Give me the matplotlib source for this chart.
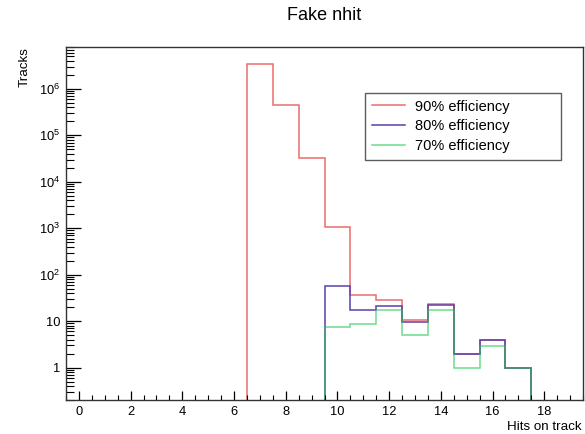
import numpy as np
import matplotlib.pyplot as plt
from matplotlib.ticker import MultipleLocator, FixedLocator, FixedFormatter, LogLocator, NullFormatter

plt.rcParams['font.family'] = ['Liberation Sans', 'DejaVu Sans']
plt.rcParams['mathtext.default'] = 'regular'

# bin edges: hits on track, unit bins from -0.5 to 19.5
edges = np.arange(-0.5, 20.5, 1.0)

# fake-track counts per bin, starting at the first filled bin
eff90_first = 7
eff90 = [3.5e6, 4.4e5, 3.3e4, 1080, 36, 28, 10.5, 23, 2, 4, 1]
eff80_first = 10
eff80 = [56, 17, 21, 9.7, 22, 2, 4, 1]
eff70_first = 10
eff70 = [7.5, 8.7, 17, 4.9, 17, 1, 2.9, 1]

labels = ['90% efficiency', '80% efficiency', '70% efficiency']
colors = ['#ec6b6b', '#5a3fae', '#1fc950']

fig = plt.figure(figsize=(5.85, 4.34), dpi=100)
ax = fig.add_axes([66 / 585, 1 - 400 / 434, 517 / 585, 353 / 434])

ymin = 0.2


def draw(first, vals, color, label, alpha=1.0):
    e = edges[first:first + len(vals) + 1]
    ax.stairs(vals, e, baseline=ymin, color=color, lw=1.1, label=label, alpha=alpha)


draw(eff90_first, eff90, colors[0], labels[0])
draw(eff80_first, eff80, colors[1], labels[1])
draw(eff70_first, eff70, colors[2], labels[2], alpha=0.65)

ax.set_yscale('log')
ax.set_ylim(ymin, 8e6)
ax.set_xlim(-0.5, 19.5)

# x ticks
ax.xaxis.set_major_locator(MultipleLocator(2))
ax.xaxis.set_minor_locator(MultipleLocator(0.5))

# y ticks
ydec = [1, 10, 1e2, 1e3, 1e4, 1e5, 1e6]
ylab = ['1', '10', '$10^{2}$', '$10^{3}$', '$10^{4}$', '$10^{5}$', '$10^{6}$']
ax.yaxis.set_major_locator(FixedLocator(ydec))
ax.yaxis.set_major_formatter(FixedFormatter(ylab))
ax.yaxis.set_minor_locator(LogLocator(base=10, subs=np.arange(2, 10), numticks=20))
ax.yaxis.set_minor_formatter(NullFormatter())

ax.tick_params(which='both', direction='in', labelsize=9.3, top=False, right=False)
ax.tick_params(axis='x', which='major', length=6.5, width=0.9, pad=4)
ax.tick_params(axis='x', which='minor', length=3.6, width=0.8)
ax.tick_params(axis='y', which='major', length=10.5, width=0.9, pad=4)
ax.tick_params(axis='y', which='minor', length=5.5, width=0.8)

for s in ax.spines.values():
    s.set_linewidth(1.0)
    s.set_color('#333333')

fig.text(0.5545, 1 - 15 / 434, 'Fake nhit', ha='center', va='center', fontsize=13)
fig.text(25 / 585, 1 - 47 / 434, 'Tracks', rotation=90, ha='center', va='top', fontsize=9.6)
fig.text(582 / 585, 1 - 427 / 434, 'Hits on track', ha='right', va='center', fontsize=9.6)

# legend box spans a fixed region, as in the ROOT canvas
lx0, lx1, ly0, ly1 = 365, 561, 93, 159
leg = ax.legend(loc='upper left', mode='expand',
                bbox_to_anchor=((lx0 - 66) / 517, (400 - ly1) / 353,
                                (lx1 - lx0) / 517, (ly1 - ly0) / 353),
                fontsize=10.5, frameon=True, fancybox=False, borderpad=0.45,
                handlelength=2.3, handletextpad=0.7, labelspacing=0.4, borderaxespad=0)
leg.get_frame().set_edgecolor('#333333')
leg.get_frame().set_linewidth(1.0)

fig.savefig('out.png', dpi=100)
